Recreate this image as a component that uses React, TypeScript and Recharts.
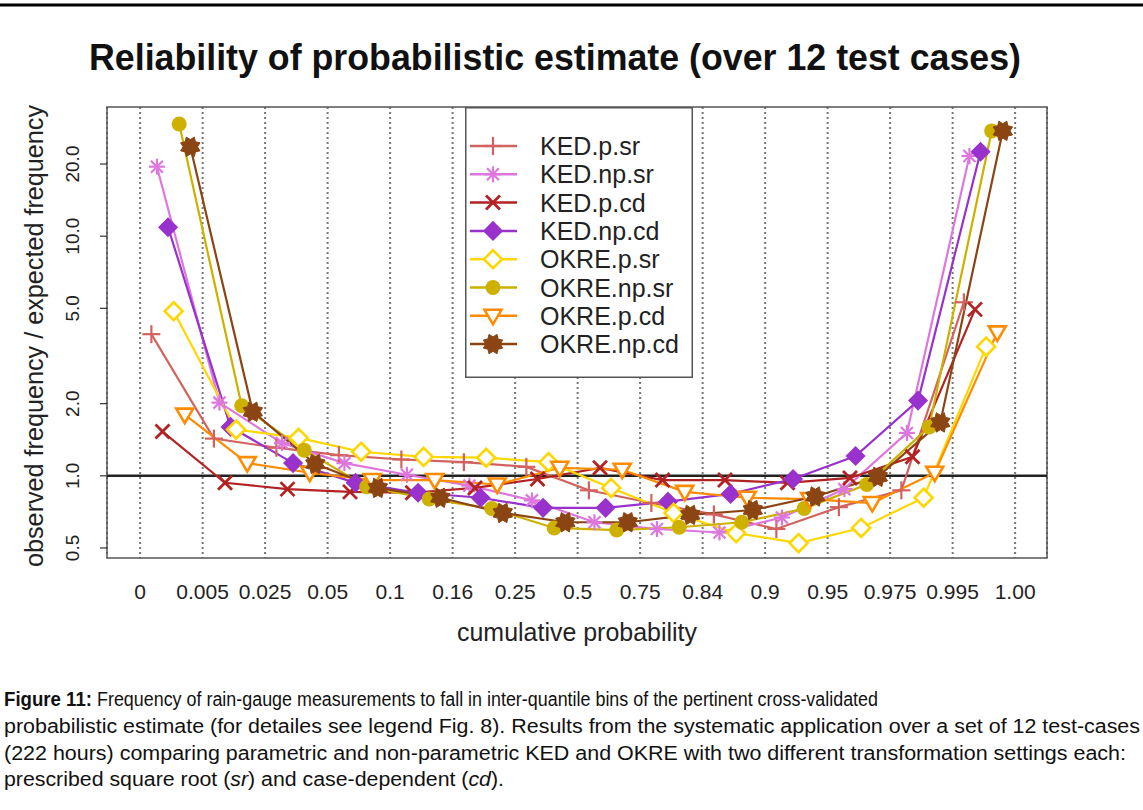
import React from "react";
import {
	LineChart,
	Line,
	XAxis,
	YAxis,
	CartesianGrid,
	ReferenceLine,
	ReferenceArea,
	Legend,
} from "recharts";

// bin edges on the x axis (cumulative probability)
const binLabels = [
	"0", "0.005", "0.025", "0.05", "0.1", "0.16", "0.25", "0.5",
	"0.75", "0.84", "0.9", "0.95", "0.975", "0.995", "1.00",
];
const yTicks = [0.5, 1, 2, 5, 10, 20];

// observed / expected frequency per inter-quantile bin
const kedPSr = [3.9, 1.43, 1.31, 1.22, 1.17, 1.14, 1.09, 0.87, 0.77, 0.69, 0.6, 0.74, 0.87, 5.3];
const kedNpSr = [19.5, 2.02, 1.37, 1.13, 1.01, 0.91, 0.79, 0.64, 0.6, 0.58, 0.67, 0.88, 1.51, 21.6];
const kedPCd = [1.53, 0.935, 0.88, 0.857, 0.85, 0.89, 0.97, 1.08, 0.96, 0.96, 0.935, 0.98, 1.2, 4.95];
const kedNpCd = [10.9, 1.6, 1.13, 0.935, 0.85, 0.81, 0.735, 0.735, 0.78, 0.84, 0.97, 1.21, 2.06, 22.5];
const okrePSr = [4.86, 1.56, 1.44, 1.26, 1.2, 1.19, 1.14, 0.89, 0.7, 0.577, 0.524, 0.606, 0.81, 3.46];
const okreNpSr = [29.4, 1.96, 1.28, 0.9, 0.8, 0.73, 0.606, 0.594, 0.61, 0.64, 0.73, 0.92, 1.6, 27.5];
const okrePCd = [1.8, 1.13, 1.03, 0.96, 0.96, 0.92, 1.08, 1.06, 0.857, 0.81, 0.8, 0.77, 1.03, 3.97];
const okreNpCd = [23.6, 1.85, 1.12, 0.89, 0.81, 0.7, 0.64, 0.64, 0.687, 0.72, 0.82, 0.99, 1.67, 27.5];

const seriesNames = [
	"KED.p.sr", "KED.np.sr", "KED.p.cd", "KED.np.cd",
	"OKRE.p.sr", "OKRE.np.sr", "OKRE.p.cd", "OKRE.np.cd",
];
const seriesValues = [kedPSr, kedNpSr, kedPCd, kedNpCd, okrePSr, okreNpSr, okrePCd, okreNpCd];
const seriesColors = [
	"#d2625f", "#dd77dd", "#b22222", "#9932cc",
	"#ffd700", "#cdb000", "#ff8c00", "#8b4513",
];
const seriesMarkers = [
	"plus", "asterisk", "cross", "diamond",
	"diamondOpen", "circle", "triangleDown", "star",
];

// each series is shifted a little inside its bin
const JITTER_START = 0.18;
const JITTER_STEP = 0.089;

const X_MIN = -0.53;
const X_MAX = 14.51;
const Y_MIN = 0.454;
const Y_MAX = 34.6;

const series = seriesNames.map((name, i) => ({
	name,
	color: seriesColors[i],
	marker: seriesMarkers[i],
	data: seriesValues[i].map((v, bin) => ({
		x: bin + JITTER_START + i * JITTER_STEP,
		y: v,
	})),
}));

const FONT = '"Liberation Sans", Arial, sans-serif';

const Marker = ({ kind, cx, cy, color }: any) => {
	const sw = 2.2;
	if (kind === "plus") {
		return (
			<g stroke={color} strokeWidth={sw}>
				<line x1={cx - 9} y1={cy} x2={cx + 9} y2={cy} />
				<line x1={cx} y1={cy - 9} x2={cx} y2={cy + 9} />
			</g>
		);
	}
	if (kind === "cross") {
		return (
			<g stroke={color} strokeWidth={sw + 0.6}>
				<line x1={cx - 7} y1={cy - 7} x2={cx + 7} y2={cy + 7} />
				<line x1={cx - 7} y1={cy + 7} x2={cx + 7} y2={cy - 7} />
			</g>
		);
	}
	if (kind === "asterisk") {
		return (
			<g stroke={color} strokeWidth={sw}>
				<line x1={cx - 8} y1={cy} x2={cx + 8} y2={cy} />
				<line x1={cx} y1={cy - 8} x2={cx} y2={cy + 8} />
				<line x1={cx - 6} y1={cy - 6} x2={cx + 6} y2={cy + 6} />
				<line x1={cx - 6} y1={cy + 6} x2={cx + 6} y2={cy - 6} />
			</g>
		);
	}
	if (kind === "diamond") {
		return (
			<polygon
				points={`${cx},${cy - 9} ${cx + 9},${cy} ${cx},${cy + 9} ${cx - 9},${cy}`}
				fill={color}
				stroke={color}
				strokeWidth={1.5}
			/>
		);
	}
	if (kind === "diamondOpen") {
		return (
			<polygon
				points={`${cx},${cy - 9} ${cx + 9},${cy} ${cx},${cy + 9} ${cx - 9},${cy}`}
				fill="#fff"
				stroke={color}
				strokeWidth={2.6}
			/>
		);
	}
	if (kind === "circle") {
		return <circle cx={cx} cy={cy} r={7.5} fill={color} />;
	}
	if (kind === "triangleDown") {
		return (
			<polygon
				points={`${cx - 8.5},${cy - 6} ${cx + 8.5},${cy - 6} ${cx},${cy + 8.5}`}
				fill="#fff"
				stroke={color}
				strokeWidth={2.6}
			/>
		);
	}
	// star
	const pts: string[] = [];
	for (let k = 0; k < 16; k++) {
		const r = k % 2 === 0 ? 10.5 : 7.2;
		const a = (Math.PI / 8) * k + Math.PI / 8;
		pts.push(`${cx + r * Math.cos(a)},${cy + r * Math.sin(a)}`);
	}
	return <polygon points={pts.join(" ")} fill={color} stroke={color} strokeWidth={1} />;
};

const XTick = ({ x, y, payload }: any) => (
	<text
		x={x}
		y={y + 41}
		textAnchor="middle"
		fontSize={21}
		fontFamily={FONT}
		fill="#222"
	>
		{binLabels[payload.value]}
	</text>
);

const YTick = ({ x, y, payload }: any) => (
	<text
		transform={`translate(${x - 21},${y}) rotate(-90)`}
		textAnchor="middle"
		fontSize={19}
		fontFamily={FONT}
		fill="#222"
	>
		{payload.value.toFixed(1)}
	</text>
);

const LegendBox = () => (
	<svg width={228} height={271} style={{ display: "block" }}>
		<rect x={0.75} y={0.75} width={226.5} height={269.5} fill="#fff" stroke="#555" strokeWidth={1.5} />
		{series.map((s, i) => {
			const cy = 39 + i * 28.3;
			return (
				<g key={s.name}>
					<line x1={5} y1={cy} x2={52} y2={cy} stroke={s.color} strokeWidth={2.5} />
					<Marker kind={s.marker} cx={28} cy={cy} color={s.color} />
					<text x={75} y={cy + 9} fontSize={25} fontFamily={FONT} fill="#222">
						{s.name}
					</text>
				</g>
			);
		})}
	</svg>
);

const App = () => {
	return (
		<div
			style={{
				position: "absolute",
				left: 0,
				top: 0,
				width: 1143,
				height: 810,
				background: "#fff",
				fontFamily: FONT,
			}}
		>
			<svg
				width={1143}
				height={810}
				style={{ position: "absolute", left: 0, top: 0 }}
			>
				<line x1={0} y1={5} x2={1143} y2={5} stroke="#000" strokeWidth={3} />
				<text
					x={555}
					y={70}
					textAnchor="middle"
					fontSize={36}
					fontWeight="bold"
					fontFamily={FONT}
					textLength={932}
					lengthAdjust="spacingAndGlyphs"
					fill="#111"
				>
					Reliability of probabilistic estimate (over 12 test cases)
				</text>
				<text
					transform="translate(43,336) rotate(-90)"
					textAnchor="middle"
					fontSize={25}
					fontFamily={FONT}
					textLength={462}
					lengthAdjust="spacingAndGlyphs"
					fill="#222"
				>
					observed frequency / expected frequency
				</text>
				<text
					x={577}
					y={641}
					textAnchor="middle"
					fontSize={25}
					fontFamily={FONT}
					textLength={240}
					lengthAdjust="spacingAndGlyphs"
					fill="#222"
				>
					cumulative probability
				</text>
				<g fontSize={20} fontFamily={FONT} fill="#111">
					<text
						x={4}
						y={706}
						fontWeight="bold"
						textLength={88}
						lengthAdjust="spacingAndGlyphs"
					>
						Figure 11:
					</text>
					<text x={97} y={706} textLength={781} lengthAdjust="spacingAndGlyphs">
						Frequency of rain-gauge measurements to fall in inter-quantile bins of the pertinent cross-validated
					</text>
					<text x={4} y={733} textLength={1136} lengthAdjust="spacingAndGlyphs">
						probabilistic estimate (for detailes see legend Fig. 8). Results from the systematic application over a set of 12 test-cases
					</text>
					<text x={4} y={760} textLength={1122} lengthAdjust="spacingAndGlyphs">
						(222 hours) comparing parametric and non-parametric KED and OKRE with two different transformation settings each:
					</text>
					<text x={4} y={786} textLength={500} lengthAdjust="spacingAndGlyphs">
						prescribed square root (<tspan fontStyle="italic">sr</tspan>) and case-dependent (<tspan fontStyle="italic">cd</tspan>).
					</text>
				</g>
			</svg>
			<div style={{ position: "absolute", left: 0, top: 0 }}>
				<LineChart
					width={1143}
					height={810}
					margin={{ top: 107, right: 96, left: 0, bottom: 222 }}
				>
					<CartesianGrid
						horizontal={false}
						stroke="#777"
						strokeWidth={2}
						strokeDasharray="2 3"
					/>
					<XAxis
						type="number"
						dataKey="x"
						domain={[X_MIN, X_MAX]}
						ticks={binLabels.map((_, i) => i)}
						allowDataOverflow
						axisLine={false}
						tickLine={false}
						tickSize={0}
						tickMargin={0}
						height={30}
						tick={<XTick />}
						interval={0}
					/>
					<YAxis
						type="number"
						dataKey="y"
						scale="log"
						domain={[Y_MIN, Y_MAX]}
						ticks={yTicks}
						allowDataOverflow
						axisLine={false}
						tickLine={{ stroke: "#333", strokeWidth: 1.2 }}
						tickSize={7}
						tickMargin={0}
						width={107}
						tick={<YTick />}
						interval={0}
					/>
					<ReferenceArea
						x1={X_MIN}
						x2={X_MAX}
						y1={Y_MIN}
						y2={Y_MAX}
						fill="none"
						stroke="#555"
						strokeWidth={1.5}
						ifOverflow="visible"
					/>
					<ReferenceLine y={1} stroke="#222" strokeWidth={2.5} />
					{series.map((s) => (
						<Line
							key={s.name}
							data={s.data}
							dataKey="y"
							name={s.name}
							type="linear"
							stroke={s.color}
							strokeWidth={2.2}
							isAnimationActive={false}
							activeDot={false}
							dot={(p: any) => (
								<Marker
									key={`${s.name}-${p.index}`}
									kind={s.marker}
									cx={p.cx}
									cy={p.cy}
									color={s.color}
								/>
							)}
						/>
					))}
					<Legend
						layout="horizontal"
						align="center"
						verticalAlign="middle"
						wrapperStyle={{ left: 465, top: 107, width: 228, height: 271 }}
						content={() => <LegendBox />}
					/>
				</LineChart>
			</div>
		</div>
	);
};

export default App;
